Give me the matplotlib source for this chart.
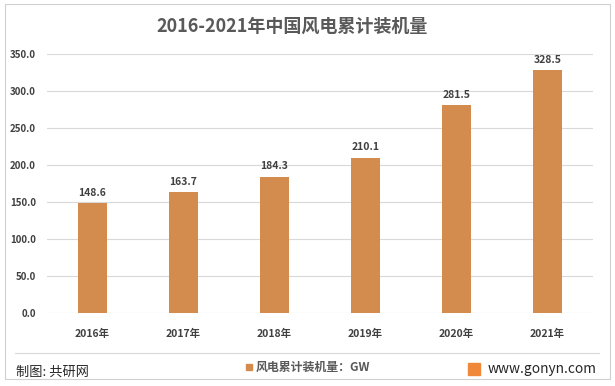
import matplotlib
matplotlib.use("Agg")
import matplotlib.pyplot as plt
from matplotlib.patches import Rectangle

plt.rcParams["font.family"] = ["Noto Sans CJK SC", "DejaVu Sans"]

years = ["2016年", "2017年", "2018年", "2019年", "2020年", "2021年"]
capacity = [148.6, 163.7, 184.3, 210.1, 281.5, 328.5]
yticks = [0, 50, 100, 150, 200, 250, 300, 350]

BAR_COLOR = "#D48B4E"
TEXT_COLOR = "#404040"

W, H = 615, 386
fig = plt.figure(figsize=(W / 100, H / 100), dpi=100)

# outer frame
fig.patches.append(Rectangle((5 / W, 7 / H), 605 / W, 375 / H, transform=fig.transFigure,
                             fill=False, edgecolor="#d0d0d0", linewidth=0.8))

ax = fig.add_axes([47 / W, (H - 313) / H, 546 / W, 259 / H])
x = range(len(years))
ax.bar(x, capacity, width=0.31, color=BAR_COLOR, zorder=2)
for xi, v in zip(x, capacity):
    ax.text(xi, v + 7, f"{v:.1f}", ha="center", va="bottom", fontsize=7.5,
            fontweight="bold", color=TEXT_COLOR)

ax.set_xlim(-0.5, len(years) - 0.5)
ax.set_ylim(0, 350)
ax.set_yticks(yticks)
ax.set_yticklabels([f"{t:.1f}" for t in yticks], fontsize=7, fontweight="bold", color=TEXT_COLOR)
ax.set_xticks(list(x))
ax.set_xticklabels(years, fontsize=7.5, fontweight="bold", color=TEXT_COLOR)
ax.tick_params(axis="x", length=0, pad=11.5)
ax.tick_params(axis="y", length=0, pad=8)
ax.grid(axis="y", color="#d9d9d9", linewidth=0.8, zorder=0)
for s in ax.spines.values():
    s.set_visible(False)

fig.text(292 / W, (H - 26) / H, "2016-2021年中国风电累计装机量", ha="center", va="center",
         fontsize=13, fontweight="bold", color="#595959")

# footer
fig.add_artist(plt.Line2D([15 / W, 599 / W], [(H - 353) / H] * 2, transform=fig.transFigure,
                          color="#d9d9d9", linewidth=0.8))
fig.text(16 / W, (H - 372) / H, "制图: 共研网", ha="left", va="center", fontsize=9.5,
         color="#262626")
fig.patches.append(Rectangle((246 / W, (H - 370) / H), 6 / W, 6 / H, transform=fig.transFigure,
                             color=BAR_COLOR))
fig.text(256 / W, (H - 367) / H, "风电累计装机量：GW", ha="left", va="center", fontsize=8.6,
         fontweight="bold", color="#595959")
fig.patches.append(Rectangle((468 / W, (H - 375) / H), 12 / W, 12 / H, transform=fig.transFigure,
                             color="#F0883A"))
fig.text(488 / W, (H - 369) / H, "www.gonyn.com", ha="left", va="center", fontsize=9.9,
         color="#262626")

fig.savefig("out.png", dpi=100)
